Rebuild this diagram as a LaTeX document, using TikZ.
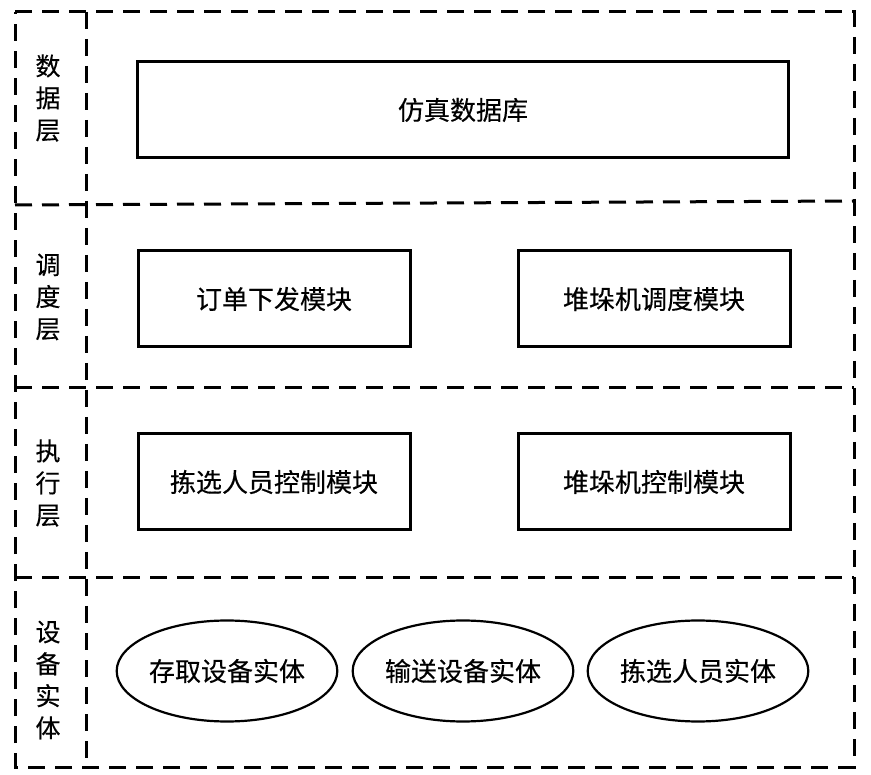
\documentclass[tikz,border=0pt]{standalone}
\usepackage{fontspec}
\setmainfont{Noto Sans CJK SC}[UprightFeatures={FakeBold=0.35}]
\usetikzlibrary{shapes.geometric}
\begin{document}
\begin{tikzpicture}[x=1pt,y=-1pt,
  layer/.style={line width=3pt,dash pattern=on 17pt off 10pt},
  modbox/.style={draw,line width=3pt,minimum width=272pt,minimum height=96pt,font=\fontsize{26}{30}\selectfont},
  entity/.style={draw,ellipse,line width=2.2pt,minimum width=219pt,minimum height=101pt,inner sep=0pt,font=\fontsize{26}{30}\selectfont},
  lab/.style={align=center,font=\fontsize{25}{32}\selectfont}]
\useasboundingbox (0,0) rectangle (871,775);
% frame
\coordinate (tl) at (15,12); \coordinate (tr) at (854,12);
\coordinate (bl) at (15,767); \coordinate (br) at (854,767);
\coordinate (dt) at (86,12); \coordinate (db) at (86,767);
\coordinate (l1a) at (15,205); \coordinate (l1b) at (854,201);
\coordinate (l2a) at (15,388); \coordinate (l2b) at (854,388);
\coordinate (l3a) at (15,578); \coordinate (l3b) at (854,578);
\draw[layer] (tl) -- (tr) -- (br) -- (bl) -- cycle;
\draw[layer] (dt) -- (db);
\draw[layer] (l1a) -- (l1b);
\draw[layer] (l2a) -- (l2b);
\draw[layer] (l3a) -- (l3b);
% labels
\node[lab] (t1) at (48,98) {数\\据\\层};
\node[lab] (t2) at (48,297) {调\\度\\层};
\node[lab] (t3) at (48,483) {执\\行\\层};
\node[lab] (t4) at (48,680) {设\\备\\实\\体};
% modules
\node[modbox,minimum width=651pt] (db1) at (463,110) {仿真数据库};
\node[modbox] (m1) at (274,299) {订单下发模块};
\node[modbox] (m2) at (654,299) {堆垛机调度模块};
\node[modbox] (m3) at (274,482) {拣选人员控制模块};
\node[modbox] (m4) at (654,482) {堆垛机控制模块};
% entities
\node[entity] (e1) at (227,671) {存取设备实体};
\node[entity] (e2) at (463,671) {输送设备实体};
\node[entity] (e3) at (698,671) {拣选人员实体};
\end{tikzpicture}
\end{document}
